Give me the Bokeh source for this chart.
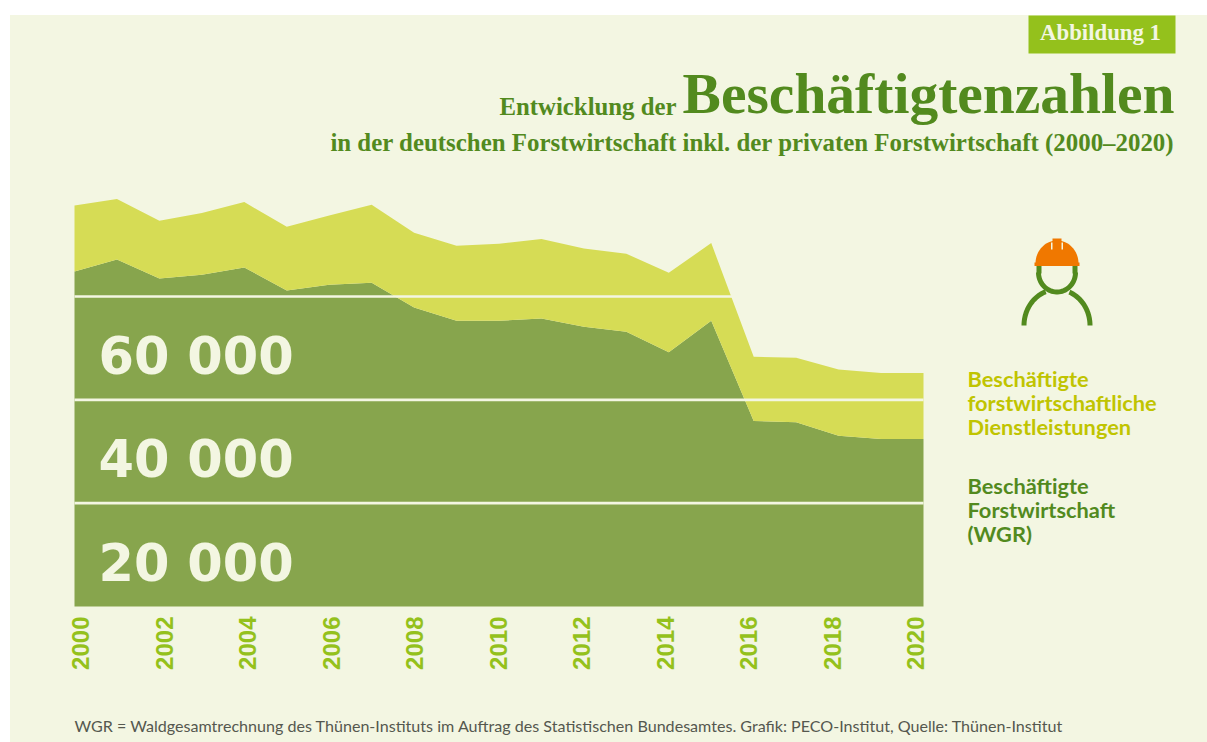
import numpy as np
from bokeh.core.properties import value
from bokeh.embed import file_html
from bokeh.models import (ColumnDataSource, GlobalInlineStyleSheet,
                          Label, PolyAnnotation, Range1d)
from bokeh.plotting import figure
from bokeh.resources import INLINE

years = list(range(2000, 2021))
forstwirtschaft = [64850, 67170, 63490, 64210, 65620, 61170, 62270, 62660, 57880, 55310, 55310,
                   55760, 54150, 53190, 49220, 55310, 35910, 35640, 33070, 32430, 32430]
dienstleistungen = [12760, 11680, 11160, 11930, 12650, 12320, 13410, 15090, 14450, 14510, 14890,
                    15350, 15150, 15080, 15380, 15030, 12440, 12520, 12820, 12770, 12770]
y_ticks = [20000, 40000, 60000]
y_tick_labels = ["20 000", "40 000", "60 000"]
x_ticks = list(range(2000, 2021, 2))

CREAM = "#f3f6e2"
DARK = "#528a1e"
AREA_DARK = "#87a54d"
AREA_LIGHT = "#d6dc55"
LIME = "#94c11c"
YELLOW = "#c0c400"
ORANGE = "#f07800"
SERIF = "Liberation Serif"
SANS = "Lato"

W, H = 1207, 742
PLOT_L, PLOT_R, PLOT_B = 74, 923, 606     # page pixels of the chart area
PX_X = (PLOT_R - PLOT_L) / 20             # pixels per year
PX_Y = 465 / 90000                        # pixels per person

page_css = GlobalInlineStyleSheet(css=f"""
html, body {{
  overflow: hidden;
  background:
    linear-gradient(#fff,#fff) 0 0 / 100% 15px no-repeat,
    linear-gradient(#fff,#fff) 0 0 / 10px 100% no-repeat,
    {CREAM};
}}
""")

# the frame fills the page so that the texts around the chart are not clipped
p = figure(width=W, height=H, output_backend="svg", toolbar_location=None,
           x_range=Range1d(2000 - PLOT_L / PX_X, 2020 + (W - PLOT_R) / PX_X),
           y_range=Range1d(-(H - PLOT_B) / PX_Y, PLOT_B / PX_Y),
           min_border=0, border_fill_color=None, background_fill_color=None,
           outline_line_color=None, x_axis_type=None, y_axis_type=None)
p.stylesheets = [page_css]
p.grid.visible = False

src = ColumnDataSource(dict(year=years, forst=forstwirtschaft, dienst=dienstleistungen))
p.varea_stack(["forst", "dienst"], x="year", source=src, color=[AREA_DARK, AREA_LIGHT])

# grid lines over the areas
p.segment(x0=[years[0]] * 3, x1=[years[-1]] * 3, y0=y_ticks, y1=y_ticks,
          line_color=CREAM, line_width=2.6)

# year labels
p.text(x=x_ticks, y=[0] * len(x_ticks), text=[str(v) for v in x_ticks],
       x_offset=np.linspace(6, -8, len(x_ticks)), y_offset=10, angle=np.pi / 2,
       text_align="right", text_baseline="middle", text_color=LIME,
       text_font=value("Liberation Sans"), text_font_style="bold", text_font_size="24px")

p.text(x=[2000] * 3, y=y_ticks, text=y_tick_labels, x_offset=24, y_offset=60,
       text_font=value("DejaVu Sans"), text_font_style="bold", text_font_size="51px",
       text_color=CREAM, text_baseline="alphabetic")


def lab(x, y, text, size, color, font=SANS, style="normal", align="left"):
    # y is the wanted baseline; the renderer sets such labels about 0.38 em lower
    p.add_layout(Label(x=x, y=H - y + 0.38 * size, x_units="screen", y_units="screen", text=text,
                       text_font=font, text_font_style=style, text_font_size=f"{size}px",
                       text_color=color, text_align=align, text_baseline="alphabetic"))


def poly(xs, ys, color):
    p.add_layout(PolyAnnotation(xs=[float(v) for v in xs], ys=[H - float(v) for v in ys],
                                xs_units="screen", ys_units="screen", fill_color=color,
                                fill_alpha=1, line_color=None))


def stroke(cx, cy, rx, ry, a0, a1, w, color):
    t = np.radians(np.linspace(a0, a1, 40))
    outer_x, outer_y = cx + (rx + w / 2) * np.cos(t), cy - (ry + w / 2) * np.sin(t)
    inner_x, inner_y = cx + (rx - w / 2) * np.cos(t), cy - (ry - w / 2) * np.sin(t)
    poly(np.r_[outer_x, inner_x[::-1]], np.r_[outer_y, inner_y[::-1]], color)


# badge
poly([1028, 1175, 1175, 1028], [15, 15, 53, 53], LIME)
lab(1100, 41, "Abbildung 1", 22.8, CREAM, SERIF, "bold", "center")

# titles
lab(1174, 115, "Beschäftigtenzahlen", 57.5, DARK, SERIF, "bold", "right")
lab(676, 115, "Entwicklung der", 24.8, DARK, SERIF, "bold", "right")
lab(1174, 151, "in der deutschen Forstwirtschaft inkl. der privaten Forstwirtschaft (2000–2020)",
    24.9, DARK, SERIF, "bold", "right")

# legend texts
for i, line in enumerate(["Beschäftigte", "forstwirtschaftliche", "Dienstleistungen"]):
    lab(967, 386 + 24 * i, line, 21.8, YELLOW, SANS, "bold")
for i, line in enumerate(["Beschäftigte", "Forstwirtschaft", "(WGR)"]):
    lab(967, 493 + 24 * i, line, 21.8, DARK, SANS, "bold")

lab(74, 731, "WGR = Waldgesamtrechnung des Thünen-Instituts im Auftrag des Statistischen "
    "Bundesamtes. Grafik: PECO-Institut, Quelle: Thünen-Institut", 16.1, "#55584f")

# worker icon
stroke(1056.5, 272, 18.5, 19.5, 0, -180, 5, DARK)
poly([1036, 1041, 1041, 1036], [264, 264, 273, 273], DARK)
poly([1072, 1077, 1077, 1072], [264, 264, 273, 273], DARK)
stroke(1056.5, 325, 33, 36, 180, 110, 5, DARK)
stroke(1056.5, 325, 33, 36, 0, 68, 5, DARK)
t = np.radians(np.linspace(0, 180, 40))
poly(1056.5 + 21.5 * np.cos(t), 263 - 23 * np.sin(t), ORANGE)
poly([1034, 1079, 1079, 1034], [262, 262, 265.5, 265.5], ORANGE)
poly([1052, 1061, 1061, 1052], [238, 238, 250, 250], ORANGE)
poly([1050.5, 1052, 1052, 1050.5], [242, 242, 249, 249], CREAM)
poly([1061, 1062.5, 1062.5, 1061], [242, 242, 249, 249], CREAM)

open("out.html", "w").write(file_html(p, INLINE))
